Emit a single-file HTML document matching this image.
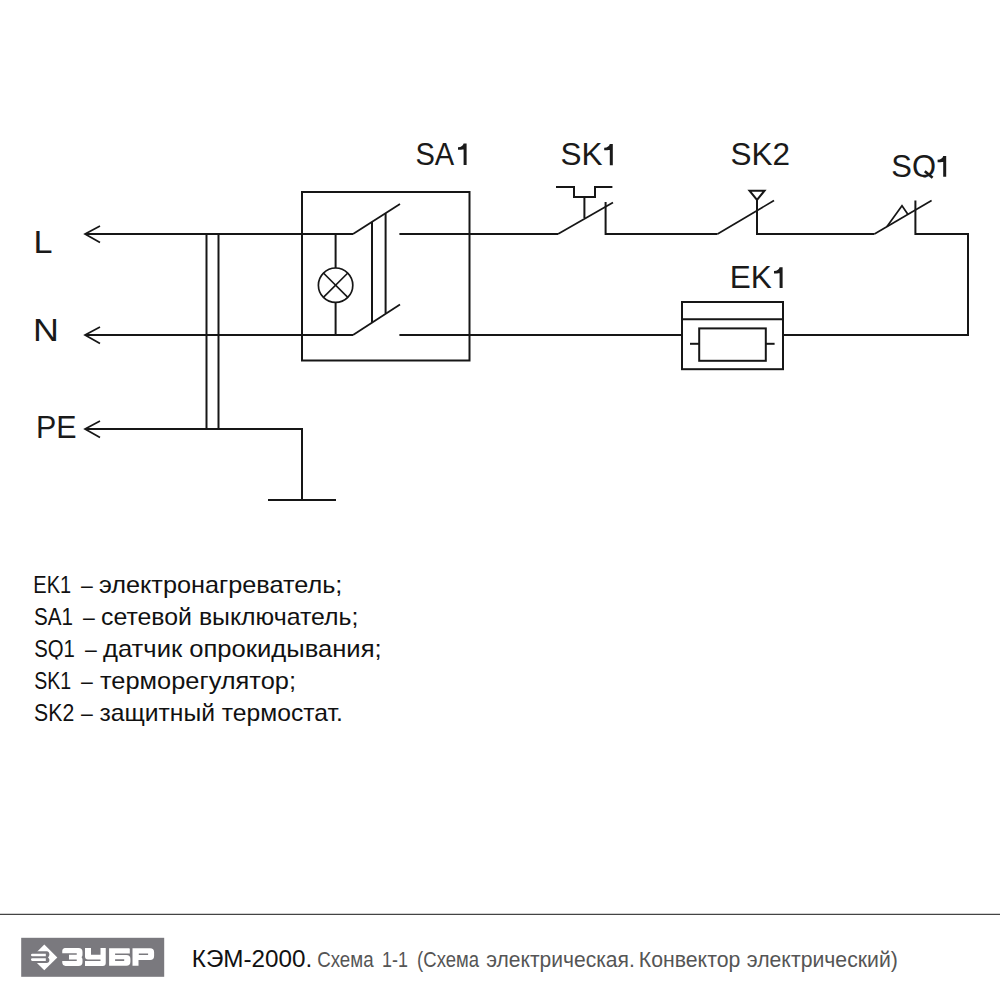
<!DOCTYPE html>
<html>
<head>
<meta charset="utf-8">
<style>
html,body{margin:0;padding:0;background:#fff;}
body{width:1000px;height:1000px;position:relative;overflow:hidden;font-family:"Liberation Sans",sans-serif;}
svg{position:absolute;left:0;top:0;}
</style>
</head>
<body>
<svg width="1000" height="1000" viewBox="0 0 1000 1000">
<defs><clipPath id="cq"><rect x="880" y="140" width="80" height="37.6"/></clipPath><clipPath id="cq2"><rect x="30" y="630" width="60" height="29.5"/></clipPath></defs>
<g fill="none" stroke="#161616" stroke-width="2" stroke-linecap="butt" stroke-linejoin="miter">
  <!-- arrows -->
  <polyline stroke-width="1.7" points="100,226 85,234 100,242.5"/>
  <polyline stroke-width="1.7" points="100,327 85,335 100,343.5"/>
  <polyline stroke-width="1.7" points="100,421 85,429 100,437.5"/>
  <!-- L line -->
  <line x1="85" y1="234" x2="353" y2="234"/>
  <line x1="85" y1="335" x2="353" y2="335"/>
  <polyline points="85,429 302,429 302,500"/>
  <line x1="268" y1="500" x2="336" y2="500"/>
  <line x1="206.5" y1="234" x2="206.5" y2="429"/>
  <line x1="218.5" y1="234" x2="218.5" y2="429"/>
  <!-- SA1 box -->
  <rect x="302" y="192" width="167.5" height="168.5"/>
  <line x1="335.6" y1="234" x2="335.6" y2="268"/>
  <line x1="335.6" y1="302.4" x2="335.6" y2="335"/>
  <circle stroke-width="1.7" cx="335.6" cy="285.2" r="17.2"/>
  <line stroke-width="1.6" x1="323.4" y1="273" x2="347.8" y2="297.4"/>
  <line stroke-width="1.6" x1="347.8" y1="273" x2="323.4" y2="297.4"/>
  <line stroke-width="1.8" x1="353" y1="234" x2="400" y2="204"/>
  <line stroke-width="1.8" x1="353" y1="335" x2="400" y2="304.5"/>
  <line x1="372" y1="222" x2="372" y2="322.5"/>
  <line x1="385.6" y1="213.3" x2="385.6" y2="313.5"/>
  <line x1="399.4" y1="234" x2="558" y2="234"/>
  <line x1="399.4" y1="335" x2="682" y2="335"/>
  <!-- SK1 -->
  <line stroke-width="1.7" x1="558" y1="234" x2="613" y2="202.4"/>
  <polyline points="605.6,202 605.6,234 717.5,234"/>
  <polyline points="556,187 574,187 574,197 595,197 595,187 612.4,187"/>
  <line x1="584.4" y1="197" x2="584.4" y2="218"/>
  <!-- SK2 -->
  <line stroke-width="1.7" x1="717.5" y1="234" x2="774" y2="200.5"/>
  <polyline points="757,200 757,234 874.4,234"/>
  <polygon points="749.5,190.7 764.5,190.7 757,200"/>
  <!-- SQ1 -->
  <line stroke-width="1.7" x1="874.4" y1="234" x2="931.6" y2="200.6"/>
  <polyline points="915.4,200.6 915.4,234 968,234 968,335 783,335"/>
  <polyline stroke-width="1.7" points="887,226.6 902,205.8 908,214.4"/>
  <!-- EK1 -->
  <rect x="682" y="302" width="101" height="67.2"/>
  <line x1="682" y1="319.2" x2="783" y2="319.2"/>
  <rect x="699.2" y="328.4" width="66.6" height="32.4"/>
  <line x1="690" y1="343.8" x2="699.2" y2="343.8"/>
  <line x1="765.8" y1="343.8" x2="774.6" y2="343.8"/>
</g>
<g fill="#1a1a1a" font-family="Liberation Sans, sans-serif" font-size="32">
  <text x="33.4" y="252.5" textLength="19" lengthAdjust="spacingAndGlyphs">L</text>
  <text x="33" y="341.2" textLength="25.9" lengthAdjust="spacingAndGlyphs">N</text>
  <text x="36" y="438.2" textLength="40.6" lengthAdjust="spacingAndGlyphs">PE</text>
</g>
<g fill="#1a1a1a" font-family="Liberation Sans, sans-serif" font-size="31.5">
  <text x="415.4" y="165" textLength="38.8" lengthAdjust="spacingAndGlyphs">SA</text>
  <text x="560.4" y="165.2">SK</text>
  <text x="730.5" y="165">SK2</text>
  <text clip-path="url(#cq)" x="891.3" y="176.8" textLength="44.7" lengthAdjust="spacingAndGlyphs">SQ</text>
  <line x1="924.8" y1="171.2" x2="932.6" y2="177.8" stroke="#1a1a1a" stroke-width="2.6"/>
  <text x="729.8" y="288.2">EK</text>
  <path d="M463.6,143.5 H466.6 V165 H463.6 V149.5 C462.0,149.6 460.4,149.7 458.0,149.7 V147.3 C461.4,147.1 463.1,145.5 463.6,143.5 Z"/>
  <path d="M609.8,144 H612.8 V165.2 H609.8 V150.0 C608.2,150.1 606.6,150.2 604.2,150.2 V147.8 C607.6,147.6 609.3,146.0 609.8,144 Z"/>
  <path d="M943.2,156 H946.2 V176.8 H943.2 V162.0 C941.6,162.1 940.0,162.2 937.6,162.2 V159.8 C941.0,159.6 942.7,158.0 943.2,156 Z"/>
  <path d="M779.6,267.2 H782.6 V288 H779.6 V273.2 C778.0,273.3 776.4,273.4 774.0,273.4 V271.0 C777.4,270.8 779.1,269.2 779.6,267.2 Z"/>
</g>
<g fill="#111" font-family="Liberation Sans, sans-serif" font-size="24">
  <text x="33.3" y="593.2" textLength="37.8" lengthAdjust="spacingAndGlyphs">EK1</text>
  <text x="81.0" y="593.2" textLength="11.8" lengthAdjust="spacingAndGlyphs">–</text>
  <text x="98.9" y="593.2" textLength="243.5" lengthAdjust="spacingAndGlyphs">электронагреватель;</text>
  <text x="34.1" y="625.2" textLength="39.0" lengthAdjust="spacingAndGlyphs">SA1</text>
  <text x="83.0" y="625.2" textLength="11.8" lengthAdjust="spacingAndGlyphs">–</text>
  <text x="101.0" y="625.2" textLength="257.4" lengthAdjust="spacingAndGlyphs">сетевой выключатель;</text>
  <text clip-path="url(#cq2)" x="34.2" y="657.2" textLength="40.7" lengthAdjust="spacingAndGlyphs">SQ1</text>
  <text x="85.0" y="657.2" textLength="11.8" lengthAdjust="spacingAndGlyphs">–</text>
  <text x="103.0" y="657.2" textLength="278.6" lengthAdjust="spacingAndGlyphs">датчик опрокидывания;</text>
  <text x="34.2" y="689.2" textLength="36.9" lengthAdjust="spacingAndGlyphs">SK1</text>
  <text x="81.0" y="689.2" textLength="11.8" lengthAdjust="spacingAndGlyphs">–</text>
  <text x="100.0" y="689.2" textLength="196.0" lengthAdjust="spacingAndGlyphs">терморегулятор;</text>
  <text x="34.1" y="721.2" textLength="40.1" lengthAdjust="spacingAndGlyphs">SK2</text>
  <text x="81.0" y="721.2" textLength="11.8" lengthAdjust="spacingAndGlyphs">–</text>
  <text x="99.5" y="721.2" textLength="243.3" lengthAdjust="spacingAndGlyphs">защитный термостат.</text>
</g>
<line x1="0" y1="914.3" x2="1000" y2="914.3" stroke="#444" stroke-width="1.3"/>
<!-- logo -->
<rect x="21.2" y="937.8" width="143" height="39" fill="#7a797e"/>
<g fill="#fff">
  <polygon points="44.3,944.4 57.3,957.4 44.3,970.3 31.3,957.4"/>
</g>
<g fill="#7a797e">
  <path d="M29,951.3 H46.6 C48.5,951.3 49.5,953 49.4,954.8 C49.3,956 48.6,957 48,957.4 C48.6,957.8 49.4,958.8 49.4,960 C49.4,961.8 48.3,963.1 46.6,963.1 H29 Z"/>
</g>
<g fill="#fff">
  <path d="M32.2,953.8 H45.8 V956.2 H32.2 A1.2,1.2 0 0 1 32.2,953.8 Z"/>
  <path d="M32.3,958.3 H45.8 V960.9 H32.3 A1.3,1.3 0 0 1 32.3,958.3 Z"/>
</g>
<g fill="#fff">
  <path d="M65,948 H78.5 A4,4 0 0 1 82.5,952 V954.6 C82.5,956 82,956.9 81.4,957.2 C82,957.5 82.5,958.4 82.5,959.8 V962 A4,4 0 0 1 78.5,966 H65.5 C63.6,966 62.25,964.4 62.25,962.6 V961 H76.75 V959.4 H69 V954.8 H76.75 V953.2 H62.25 V951 C62.25,949.4 63.4,948 65,948 Z"/>
  <path d="M85,948 H91 V954.8 H100.5 V948 H105.75 V963 A3,3 0 0 1 102.75,966 H85 V961 H100.5 V959.4 H88 A3,3 0 0 1 85,956.4 Z"/>
  <path fill-rule="evenodd" d="M109.1,948.2 H129 A0.8,0.8 0 0 1 129.8,949 V953.4 H115.1 V954.9 H126.4 A4,4 0 0 1 130.4,958.9 V961.8 A4,4 0 0 1 126.4,965.8 H109.1 Z M115.1,959.3 V960.9 H124.2 V959.3 Z"/>
  <path fill-rule="evenodd" d="M132.5,948.2 H150.1 A4,4 0 0 1 154.1,952.2 V955.9 A4,4 0 0 1 150.1,959.9 H138.5 V965.8 H132.5 Z M138.8,953.4 V954.9 H148.1 V953.4 Z"/>
</g>
<text x="191.8" y="967" font-family="Liberation Sans, sans-serif" font-size="24.5" fill="#111" textLength="120.5" lengthAdjust="spacingAndGlyphs">КЭМ-2000.</text>
<g font-family="Liberation Sans, sans-serif" font-size="21.5" fill="#555">
  <text y="967" x="317.2" textLength="56.4" lengthAdjust="spacingAndGlyphs">Схема</text>
  <text y="967" x="382.1" textLength="25.9" lengthAdjust="spacingAndGlyphs">1-1</text>
  <text y="967" x="417.1" textLength="61.9" lengthAdjust="spacingAndGlyphs">(Схема</text>
  <text y="967" x="486.2" textLength="148.6" lengthAdjust="spacingAndGlyphs">электрическая.</text>
  <text y="967" x="638.8" textLength="101.5" lengthAdjust="spacingAndGlyphs">Конвектор</text>
  <text y="967" x="746.8" textLength="151.1" lengthAdjust="spacingAndGlyphs">электрический)</text>
</g>
</svg>
</body>
</html>
